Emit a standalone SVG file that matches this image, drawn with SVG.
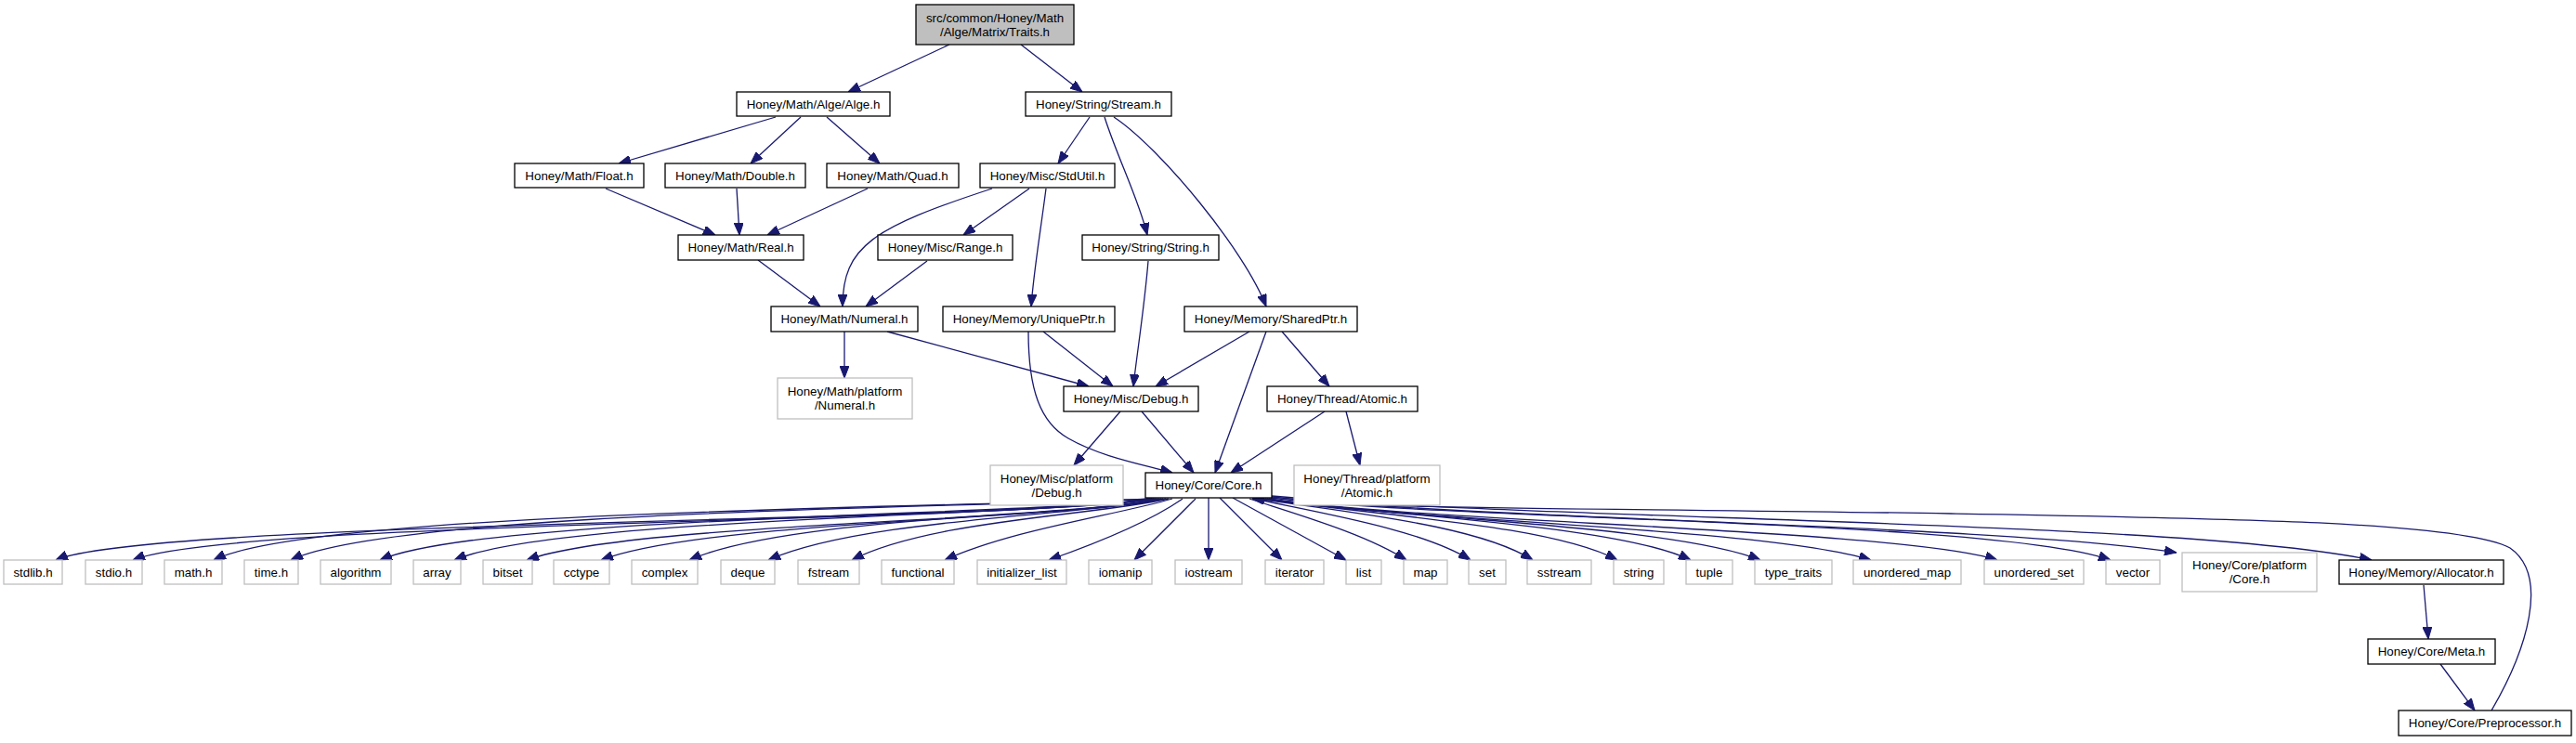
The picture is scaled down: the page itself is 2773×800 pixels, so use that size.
<svg xmlns="http://www.w3.org/2000/svg" width="2773" height="800" viewBox="0 0 2773 800">
<style>
.n rect{fill:#fff;stroke:#000;stroke-width:1.3}
.n.g rect{stroke:#bfbfbf}
.n.m rect{fill:#bfbfbf}
text{font-family:"Liberation Sans",Arial,sans-serif;font-size:13.33px;text-anchor:middle;fill:#000}
#edges path{fill:none;stroke:#191970;stroke-width:1.3;marker-end:url(#a)}
</style>
<defs>
<marker id="a" viewBox="0 0 13 10" refX="13" refY="5" markerWidth="13" markerHeight="10" orient="auto" markerUnits="userSpaceOnUse">
<path d="M0,0 L13,5 L0,10 z" fill="#191970" stroke="#191970" stroke-width="1"/>
</marker>
</defs>
<rect width="2773" height="800" fill="#fff"/>
<g id="edges">
<path d="M1022,48 L913,99"/>
<path d="M1099,48 L1165,99"/>
<path d="M835,126 L666,176"/>
<path d="M862,126 L808,176"/>
<path d="M890,126 L947,176"/>
<path d="M1173,126 L1139,176"/>
<path d="M1189,126 C1203,170 1226,215 1235,253"/>
<path d="M1199,126 C1250,160 1340,270 1363,330"/>
<path d="M652,203 L770,253"/>
<path d="M793,203 L796,253"/>
<path d="M934,203 L826,253"/>
<path d="M1068,203 C940,245 907,265 907,330"/>
<path d="M1108,203 L1037,253"/>
<path d="M1126,203 C1120,250 1113,290 1110,330"/>
<path d="M816,280 L883,330"/>
<path d="M998,281 L932,330"/>
<path d="M1236,281 C1232,330 1224,380 1220,416"/>
<path d="M909,357 L909,407"/>
<path d="M955,357 L1172,416"/>
<path d="M1123,357 L1198,416"/>
<path d="M1107,357 C1107,420 1120,455 1150,472 C1185,492 1230,500 1262,509"/>
<path d="M1345,357 L1244,416"/>
<path d="M1363,357 L1308,509"/>
<path d="M1380,357 L1431,416"/>
<path d="M1206,443 L1156,501"/>
<path d="M1229,443 L1285,509"/>
<path d="M1426,443 L1325,509"/>
<path d="M1449,443 L1464,501"/>
<path d="M1236,537 C1100,562 160,560 60,603"/>
<path d="M1238,537 C1100,562 250,560 143,603"/>
<path d="M1240,537 C1100,545 340,548 230,603"/>
<path d="M1242,537 C1110,545 430,548 313,603"/>
<path d="M1244,537 C1120,555 520,555 409,603"/>
<path d="M1246,537 C1130,556 600,556 489,603"/>
<path d="M1248,537 C1140,562 680,562 567,603"/>
<path d="M1250,537 C1150,560 760,560 647,603"/>
<path d="M1252,537 C1160,556 850,556 742,603"/>
<path d="M1255,537 C1170,555 930,558 827,603"/>
<path d="M1258,537 C1180,555 1000,560 917,603"/>
<path d="M1262,537 C1200,555 1090,570 1017,603"/>
<path d="M1273,537 C1240,560 1180,585 1129,603"/>
<path d="M1287,537 L1221,603"/>
<path d="M1301,536 L1301,603"/>
<path d="M1313,536 L1380,603"/>
<path d="M1327,536 L1449,603"/>
<path d="M1345,537 C1400,555 1470,575 1514,603"/>
<path d="M1350,537 C1420,552 1530,570 1583,603"/>
<path d="M1355,537 C1450,552 1590,565 1650,603"/>
<path d="M1358,537 C1480,555 1670,565 1741,603"/>
<path d="M1360,537 C1500,556 1740,565 1820,603"/>
<path d="M1362,537 C1500,558 1800,565 1895,603"/>
<path d="M1364,537 C1500,560 1900,568 2014,603"/>
<path d="M1366,537 C1520,562 2050,570 2150,603"/>
<path d="M1368,536 C1560,560 2150,560 2272,603"/>
<path d="M1369,535 C1600,560 2150,565 2343,595"/>
<path d="M1369,534 C1650,560 2350,560 2553,603"/>
<path d="M2682,765 C2720,700 2745,620 2702,590 C2650,562 2400,558 2100,553 C1800,548 1450,548 1348,537"/>
<path d="M2609,630 L2614,688"/>
<path d="M2627,715 L2664,765"/>
</g>
<g id="n_main" class="n m"><rect x="986" y="5" width="170" height="43"/><text x="1071" y="24">src/common/Honey/Math</text><text x="1071" y="39">/Alge/Matrix/Traits.h</text></g>
<g id="n_alge" class="n"><rect x="793" y="99" width="165" height="26"/><text x="875.5" y="116.8">Honey/Math/Alge/Alge.h</text></g>
<g id="n_stream" class="n"><rect x="1104" y="99" width="157" height="26"/><text x="1182.5" y="116.8">Honey/String/Stream.h</text></g>
<g id="n_float" class="n"><rect x="554" y="176" width="139" height="26"/><text x="623.5" y="193.8">Honey/Math/Float.h</text></g>
<g id="n_double" class="n"><rect x="716" y="176" width="151" height="26"/><text x="791.5" y="193.8">Honey/Math/Double.h</text></g>
<g id="n_quad" class="n"><rect x="890" y="176" width="142" height="26"/><text x="961" y="193.8">Honey/Math/Quad.h</text></g>
<g id="n_stdutil" class="n"><rect x="1055" y="176" width="145" height="26"/><text x="1127.5" y="193.8">Honey/Misc/StdUtil.h</text></g>
<g id="n_real" class="n"><rect x="730" y="253" width="135" height="27"/><text x="797.5" y="271.3">Honey/Math/Real.h</text></g>
<g id="n_range" class="n"><rect x="945" y="253" width="145" height="27"/><text x="1017.5" y="271.3">Honey/Misc/Range.h</text></g>
<g id="n_string" class="n"><rect x="1165" y="253" width="147" height="27"/><text x="1238.5" y="271.3">Honey/String/String.h</text></g>
<g id="n_numeral" class="n"><rect x="830" y="330" width="158" height="27"/><text x="909" y="348.3">Honey/Math/Numeral.h</text></g>
<g id="n_uniqueptr" class="n"><rect x="1015" y="330" width="185" height="27"/><text x="1107.5" y="348.3">Honey/Memory/UniquePtr.h</text></g>
<g id="n_sharedptr" class="n"><rect x="1275" y="330" width="186" height="27"/><text x="1368" y="348.3">Honey/Memory/SharedPtr.h</text></g>
<g id="n_mathplat" class="n g"><rect x="837" y="407" width="145" height="44"/><text x="909.5" y="426.3">Honey/Math/platform</text><text x="909.5" y="441.3">/Numeral.h</text></g>
<g id="n_debug" class="n"><rect x="1145" y="416" width="145" height="27"/><text x="1217.5" y="434.3">Honey/Misc/Debug.h</text></g>
<g id="n_atomic" class="n"><rect x="1364" y="416" width="162" height="27"/><text x="1445" y="434.3">Honey/Thread/Atomic.h</text></g>
<g id="n_miscplat" class="n g"><rect x="1066" y="501" width="143" height="43"/><text x="1137.5" y="519.8">Honey/Misc/platform</text><text x="1137.5" y="534.8">/Debug.h</text></g>
<g id="n_core" class="n"><rect x="1233" y="509" width="136" height="27"/><text x="1301" y="527.3">Honey/Core/Core.h</text></g>
<g id="n_threadplat" class="n g"><rect x="1393" y="501" width="157" height="43"/><text x="1471.5" y="519.8">Honey/Thread/platform</text><text x="1471.5" y="534.8">/Atomic.h</text></g>
<g id="n_stdlib" class="n g"><rect x="4" y="603" width="63" height="26"/><text x="35.5" y="620.8">stdlib.h</text></g>
<g id="n_stdio" class="n g"><rect x="92" y="603" width="61" height="26"/><text x="122.5" y="620.8">stdio.h</text></g>
<g id="n_math" class="n g"><rect x="177" y="603" width="62" height="26"/><text x="208" y="620.8">math.h</text></g>
<g id="n_time" class="n g"><rect x="263" y="603" width="58" height="26"/><text x="292" y="620.8">time.h</text></g>
<g id="n_algorithm" class="n g"><rect x="345" y="603" width="76" height="26"/><text x="383" y="620.8">algorithm</text></g>
<g id="n_array" class="n g"><rect x="445" y="603" width="51" height="26"/><text x="470.5" y="620.8">array</text></g>
<g id="n_bitset" class="n g"><rect x="520" y="603" width="53" height="26"/><text x="546.5" y="620.8">bitset</text></g>
<g id="n_cctype" class="n g"><rect x="596" y="603" width="60" height="26"/><text x="626" y="620.8">cctype</text></g>
<g id="n_complex" class="n g"><rect x="680" y="603" width="71" height="26"/><text x="715.5" y="620.8">complex</text></g>
<g id="n_deque" class="n g"><rect x="776" y="603" width="58" height="26"/><text x="805" y="620.8">deque</text></g>
<g id="n_fstream" class="n g"><rect x="859" y="603" width="66" height="26"/><text x="892" y="620.8">fstream</text></g>
<g id="n_functional" class="n g"><rect x="949" y="603" width="78" height="26"/><text x="988" y="620.8">functional</text></g>
<g id="n_initlist" class="n g"><rect x="1052" y="603" width="96" height="26"/><text x="1100" y="620.8">initializer_list</text></g>
<g id="n_iomanip" class="n g"><rect x="1172" y="603" width="68" height="26"/><text x="1206" y="620.8">iomanip</text></g>
<g id="n_iostream" class="n g"><rect x="1265" y="603" width="72" height="26"/><text x="1301" y="620.8">iostream</text></g>
<g id="n_iterator" class="n g"><rect x="1362" y="603" width="63" height="26"/><text x="1393.5" y="620.8">iterator</text></g>
<g id="n_list" class="n g"><rect x="1449" y="603" width="38" height="26"/><text x="1468" y="620.8">list</text></g>
<g id="n_map" class="n g"><rect x="1511" y="603" width="47" height="26"/><text x="1534.5" y="620.8">map</text></g>
<g id="n_set" class="n g"><rect x="1581" y="603" width="40" height="26"/><text x="1601" y="620.8">set</text></g>
<g id="n_sstream" class="n g"><rect x="1644" y="603" width="69" height="26"/><text x="1678.5" y="620.8">sstream</text></g>
<g id="n_strstd" class="n g"><rect x="1737" y="603" width="54" height="26"/><text x="1764" y="620.8">string</text></g>
<g id="n_tuple" class="n g"><rect x="1815" y="603" width="50" height="26"/><text x="1840" y="620.8">tuple</text></g>
<g id="n_typetraits" class="n g"><rect x="1889" y="603" width="83" height="26"/><text x="1930.5" y="620.8">type_traits</text></g>
<g id="n_umap" class="n g"><rect x="1995" y="603" width="116" height="26"/><text x="2053" y="620.8">unordered_map</text></g>
<g id="n_uset" class="n g"><rect x="2136" y="603" width="107" height="26"/><text x="2189.5" y="620.8">unordered_set</text></g>
<g id="n_vector" class="n g"><rect x="2267" y="603" width="58" height="26"/><text x="2296" y="620.8">vector</text></g>
<g id="n_coreplat" class="n g"><rect x="2349" y="595" width="145" height="42"/><text x="2421.5" y="613.3">Honey/Core/platform</text><text x="2421.5" y="628.3">/Core.h</text></g>
<g id="n_allocator" class="n"><rect x="2518" y="603" width="177" height="26"/><text x="2606.5" y="620.8">Honey/Memory/Allocator.h</text></g>
<g id="n_meta" class="n"><rect x="2549" y="688" width="137" height="27"/><text x="2617.5" y="706.3">Honey/Core/Meta.h</text></g>
<g id="n_preproc" class="n"><rect x="2582" y="765" width="186" height="27"/><text x="2675" y="783.3">Honey/Core/Preprocessor.h</text></g>
</svg>
